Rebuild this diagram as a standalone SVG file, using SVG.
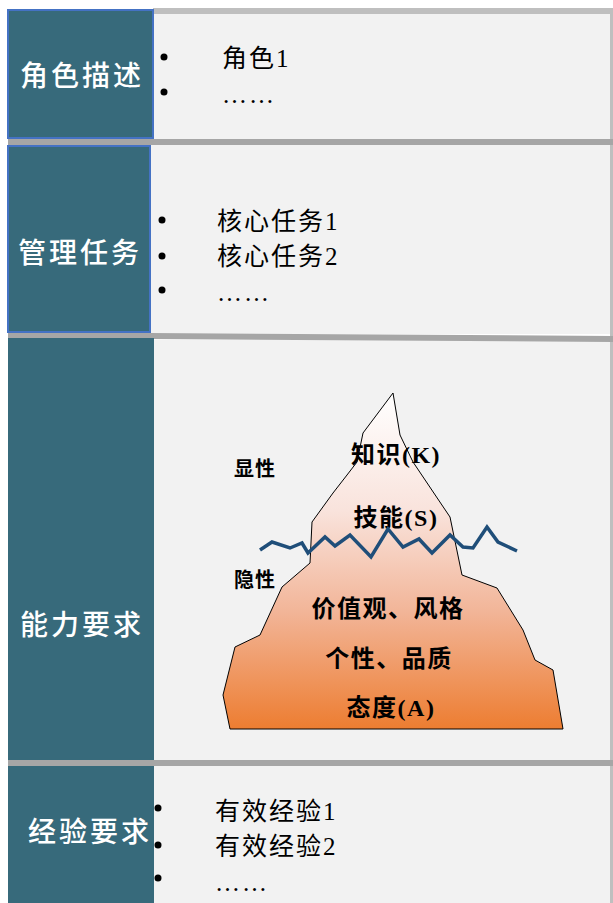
<svg xmlns="http://www.w3.org/2000/svg" width="613" height="903" viewBox="0 0 613 903">
  <defs>
    <linearGradient id="iceFill" x1="0" y1="393" x2="0" y2="729" gradientUnits="userSpaceOnUse">
      <stop offset="0" stop-color="#ffffff"/>
      <stop offset="0.35" stop-color="#f9e3dc"/>
      <stop offset="0.65" stop-color="#f2b598"/>
      <stop offset="1" stop-color="#ed7d31"/>
    </linearGradient>
  </defs>
  <style>
    .head { fill: #376a7b; }
    .headb { fill: #376a7b; stroke: #4472c4; stroke-width: 2; }
    .panel { fill: #f2f2f2; }
    .sep { fill: #a6a6a6; }
    .edge { fill: #bfbfbf; }
    .label { font-family: "Noto Sans CJK SC", sans-serif; font-size: 28px; font-weight: 500; fill: #ffffff; letter-spacing: 3px; text-anchor: middle; }
    .item { font-family: "Liberation Serif", "Noto Sans CJK SC", serif; font-size: 25px; fill: #000000; letter-spacing: 2px; }
    .bullet { fill: #000000; }
    .ice { font-family: "Liberation Serif", "Noto Sans CJK SC", serif; font-size: 24px; font-weight: bold; fill: #000000; letter-spacing: 1.5px; text-anchor: middle; }
    .side { font-family: "Noto Sans CJK SC", sans-serif; font-size: 20px; font-weight: bold; fill: #000000; letter-spacing: 1px; }
    .wave { fill: none; stroke: #1f4e79; stroke-width: 3.5; stroke-linejoin: miter; }
    .berg { fill: url(#iceFill); stroke: #000000; stroke-width: 1; }
  </style>

  <rect x="0" y="0" width="613" height="903" fill="#ffffff"/>

  <!-- content panels and frame strips -->
  <g id="panels">
    <rect class="panel" x="153" y="13" width="457" height="127"/>
    <rect class="panel" x="150" y="144" width="460" height="190"/>
    <rect class="panel" x="154" y="340" width="456" height="421"/>
    <rect class="panel" x="154" y="766" width="456" height="137"/>
    <rect class="edge" x="153" y="8" width="460" height="6"/>
    <rect class="edge" x="610" y="8" width="3" height="895"/>
    <rect class="sep" x="8" y="139" width="605" height="6"/>
    <polygon class="sep" points="8,332 613,336 613,342 8,338"/>
    <rect class="sep" x="8" y="760" width="605" height="6"/>
  </g>

  <!-- row 1 -->
  <g id="role">
    <rect class="headb" x="8" y="10" width="145" height="128"/>
    <text class="label" x="82" y="86">角色描述</text>
    <circle class="bullet" cx="164" cy="57" r="3.5"/>
    <circle class="bullet" cx="164" cy="92" r="3.5"/>
    <text class="item" x="222" y="67">角色1</text>
    <text class="item" x="222" y="103">……</text>
  </g>

  <!-- row 2 -->
  <g id="tasks">
    <rect class="headb" x="8" y="146" width="142" height="186"/>
    <text class="label" x="80" y="263">管理任务</text>
    <circle class="bullet" cx="162" cy="220" r="3.5"/>
    <circle class="bullet" cx="162" cy="256" r="3.5"/>
    <circle class="bullet" cx="162" cy="290" r="3.5"/>
    <text class="item" x="217" y="230">核心任务1</text>
    <text class="item" x="217" y="265">核心任务2</text>
    <text class="item" x="217" y="301">……</text>
  </g>

  <!-- row 3 -->
  <g id="ability">
    <rect class="head" x="8" y="338" width="146" height="422"/>
    <text class="label" x="82" y="635">能力要求</text>
  </g>

  <!-- iceberg model -->
  <g id="iceberg">
    <polygon class="berg" points="393,393 400,435 413,462 450,517 462,575 497,588 523,630 535,660 553,670 563,729 230,729 223,695 235,647 260,635 282,587 310,563 312,522 333,493 347,475 357,462 363,433"/>
    <text class="ice" x="396" y="463">知识(K)</text>
    <text class="ice" x="396" y="526">技能(S)</text>
    <text class="ice" x="388" y="617">价值观、风格</text>
    <text class="ice" x="389" y="667">个性、品质</text>
    <text class="ice" x="391" y="716">态度(A)</text>
    <text class="side" x="234" y="476">显性</text>
    <text class="side" x="234" y="587">隐性</text>
  </g>

  <!-- waterline -->
  <g id="connectors">
    <polyline class="wave" points="260,550 272,542 290,548 302,543 308,553 325,537 335,546 350,535 371,557 388,529 403,547 419,539 432,553 450,535 463,547 473,548 487,527 498,542 517,551"/>
  </g>

  <!-- row 4 -->
  <g id="experience">
    <rect class="head" x="8" y="766" width="146" height="137"/>
    <text class="label" x="90" y="842">经验要求</text>
    <circle class="bullet" cx="158" cy="808" r="3.5"/>
    <circle class="bullet" cx="158" cy="845" r="3.5"/>
    <circle class="bullet" cx="158" cy="878" r="3.5"/>
    <text class="item" x="215" y="820">有效经验1</text>
    <text class="item" x="215" y="855">有效经验2</text>
    <text class="item" x="215" y="891">……</text>
  </g>
</svg>
